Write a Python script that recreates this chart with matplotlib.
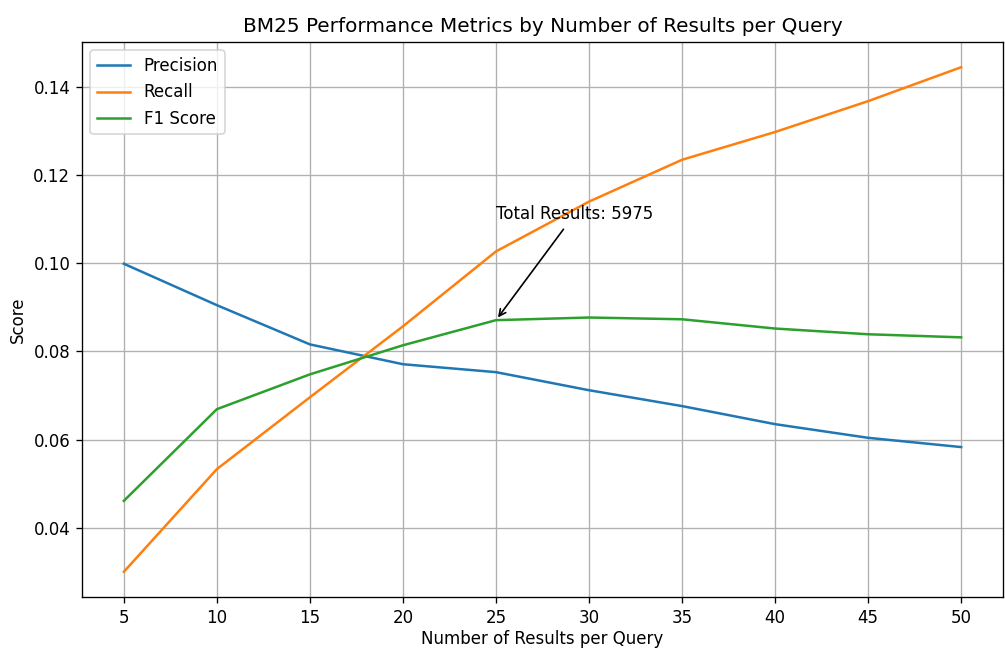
import matplotlib
matplotlib.use("Agg")
import matplotlib.pyplot as plt

results_per_query = [5, 10, 15, 20, 25, 30, 35, 40, 45, 50]
precision = [0.0999, 0.0905, 0.0816, 0.0771, 0.0753, 0.0712, 0.0676, 0.0635, 0.0604, 0.0583]
recall = [0.0300, 0.0533, 0.0696, 0.0857, 0.1027, 0.1140, 0.1235, 0.1298, 0.1368, 0.1445]
f1_score = [0.0461, 0.0669, 0.0748, 0.0814, 0.0871, 0.0877, 0.0873, 0.0852, 0.0839, 0.0832]
total_results = 5975

dpi = 120
fig, ax = plt.subplots(figsize=(1005 / dpi, 649 / dpi), dpi=dpi)
fig.subplots_adjust(left=82 / 1005, right=1003 / 1005, top=1 - 42 / 649, bottom=1 - 597 / 649)

ax.plot(results_per_query, precision, label="Precision")
ax.plot(results_per_query, recall, label="Recall")
ax.plot(results_per_query, f1_score, label="F1 Score")

ax.annotate(f"Total Results: {total_results}",
            xy=(results_per_query[4], f1_score[4]),
            xytext=(results_per_query[4], 0.11),
            arrowprops=dict(arrowstyle="->", color="black"))

ax.set_xticks(results_per_query)
ax.set_title("BM25 Performance Metrics by Number of Results per Query")
ax.set_xlabel("Number of Results per Query", labelpad=2)
ax.set_ylabel("Score")
ax.legend(loc="upper left")
ax.grid(True)

plt.savefig("out.png", dpi=dpi)
